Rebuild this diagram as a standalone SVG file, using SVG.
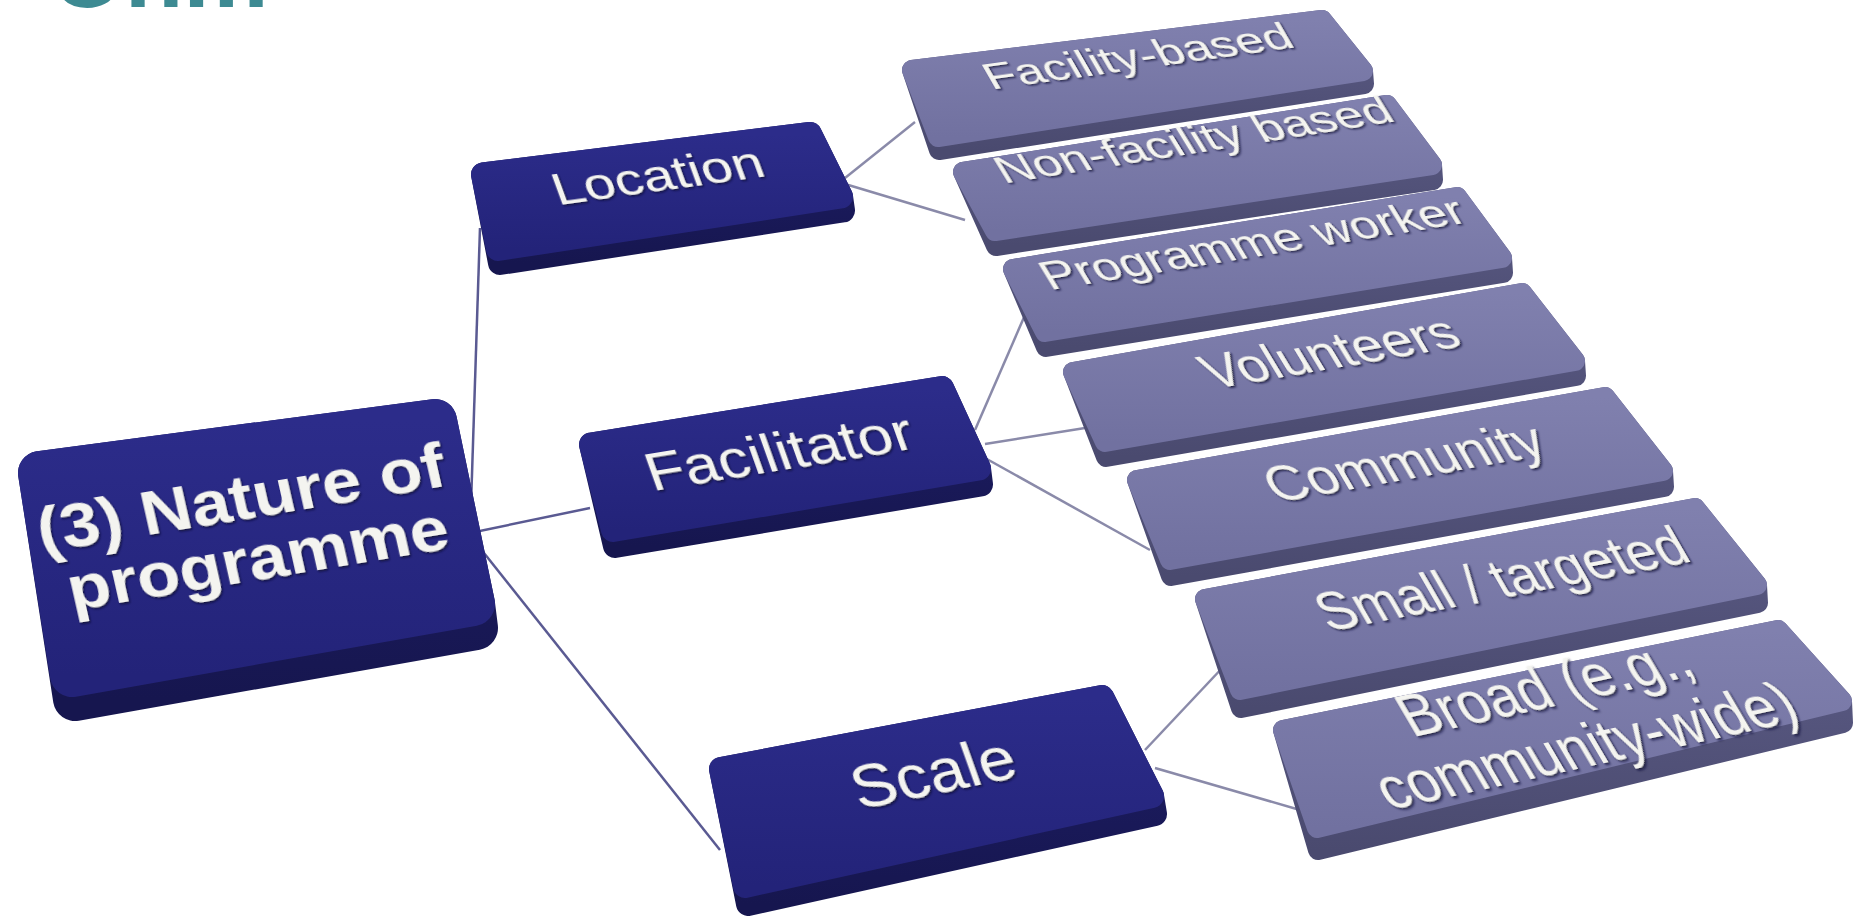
<svg xmlns="http://www.w3.org/2000/svg" width="1858" height="916" viewBox="0 0 1858 916">
<style>
  .dface{fill:url(#gDF);stroke:url(#gDF);stroke-linejoin:round}
  .dbody{fill:url(#gDB);stroke:url(#gDB);stroke-linejoin:round}
  .lface{fill:url(#gLF);stroke:url(#gLF);stroke-linejoin:round;stroke-width:20}
  .lbody{fill:url(#gLB);stroke:url(#gLB);stroke-linejoin:round;stroke-width:20}
  .root{stroke-width:44}
  .mid{stroke-width:24}
  .lbl{font-family:"Liberation Sans",Arial,sans-serif;fill:#f4f4f0;text-anchor:middle;filter:url(#emb)}
  .c1{stroke:#5a5a92;stroke-width:2.5;fill:none}
  .c2{stroke:#8a8aa9;stroke-width:2.5;fill:none}
</style>
<defs>
  <linearGradient id="gDF" x1="0" y1="0" x2="0" y2="1">
    <stop offset="0" stop-color="#2c2c8a"/><stop offset="1" stop-color="#232379"/>
  </linearGradient>
  <linearGradient id="gDB" x1="0" y1="0" x2="0" y2="1">
    <stop offset="0" stop-color="#1e1e66"/><stop offset="1" stop-color="#16164f"/>
  </linearGradient>
  <linearGradient id="gLF" x1="0" y1="0" x2="0" y2="1">
    <stop offset="0" stop-color="#8080ae"/><stop offset="1" stop-color="#7171a0"/>
  </linearGradient>
  <linearGradient id="gLB" x1="0" y1="0" x2="0" y2="1">
    <stop offset="0" stop-color="#5c5c86"/><stop offset="1" stop-color="#4a4a6f"/>
  </linearGradient>
  <filter id="emb" x="-10%" y="-30%" width="120%" height="160%">
    <feDropShadow dx="1" dy="2" stdDeviation="1.2" flood-color="#101030" flood-opacity="0.85"/>
  </filter>
</defs>
<rect width="1858" height="916" fill="#ffffff"/>
<text x="50" y="7" font-family="Liberation Sans, Arial, sans-serif" font-size="96" font-weight="bold" fill="#3d8a92">Onm</text>

<g id="connectors">
  <line class="c1" x1="471" y1="505" x2="480" y2="228"/>
  <line class="c1" x1="470" y1="533" x2="590" y2="508"/>
  <line class="c1" x1="480" y1="548" x2="720" y2="850"/>
  <line class="c2" x1="845" y1="178" x2="915" y2="122"/>
  <line class="c2" x1="845" y1="184" x2="965" y2="220"/>
  <line class="c2" x1="975" y1="430" x2="1025" y2="315"/>
  <line class="c2" x1="985" y1="444" x2="1085" y2="428"/>
  <line class="c2" x1="985" y1="458" x2="1150" y2="550"/>
  <line class="c2" x1="1145" y1="750" x2="1225" y2="665"/>
  <line class="c2" x1="1155" y1="768" x2="1300" y2="810"/>
</g>

<g id="node-root">
  <polygon class="dbody root" points="40,473 435,421 473,604 476,628 75,699"/>
  <polygon class="dface root" points="40,473 435,421 473,604 72,675"/>
  <g transform="matrix(0.987,-0.163,0.18,0.80,250,539)">
    <text class="lbl" font-weight="bold" font-size="70" transform="translate(0,-25) scale(1,1.1)">(3) Nature of</text>
    <text class="lbl" font-weight="bold" font-size="70" transform="translate(3,51) scale(1,1.1)">programme</text>
  </g>
</g>

<g id="node-location">
  <polygon class="dbody mid" points="483,174.5 810,134 841,196.5 843,210.5 500,263"/>
  <polygon class="dface mid" points="483,174.5 810,134 841,196.5 498,249"/>
  <g transform="matrix(0.990,-0.138,0.28,0.77,657.5,184.5)">
    <text class="lbl" font-size="56" x="3" y="8">Location</text>
  </g>
</g>

<g id="node-facilitator">
  <polygon class="dbody mid" points="591,444.5 942,388 979,468.5 981,484.5 615,546"/>
  <polygon class="dface mid" points="591,444.5 942,388 979,468.5 613,530"/>
  <g transform="matrix(0.987,-0.161,0.275,0.772,781,458)">
    <text class="lbl" font-size="62" transform="translate(0,15) scale(1,1.1)">Facilitator</text>
  </g>
</g>

<g id="node-scale">
  <polygon class="dbody mid" points="721,769 1102,697 1152,796 1155,814 748,904"/>
  <polygon class="dface mid" points="721,769 1102,697 1152,796 745,886"/>
  <g transform="matrix(0.9795,-0.2015,0.275,0.772,929,782)">
    <text class="lbl" font-size="66" transform="translate(7,16) scale(1,1.18)">Scale</text>
  </g>
</g>

<g id="node-facility-based">
  <polygon class="lbody" points="912,70 1322,20 1363,71 1364,84 939,150"/>
  <polygon class="lface" points="912,70 1322,20 1363,71 938,137"/>
  <g transform="matrix(0.990,-0.1377,0.41,0.71,1134,74.5)">
    <text class="lbl" font-size="50" x="13" y="-6">Facility-based</text>
  </g>
</g>

<g id="node-non-facility">
  <polygon class="lbody" points="963,172 1387,105 1432,165 1433,180 996,246"/>
  <polygon class="lface" points="963,172 1387,105 1432,165 995,231"/>
  <g transform="matrix(0.988,-0.157,0.43,0.70,1194,168)">
    <text class="lbl" font-size="50" transform="translate(15,-19) scale(1,1.05)">Non-facility based</text>
  </g>
</g>

<g id="node-programme-worker">
  <polygon class="lbody" points="1013,269 1457,197 1502,258 1503,273 1046,347"/>
  <polygon class="lface" points="1013,269 1457,197 1502,258 1045,332"/>
  <g transform="matrix(0.987,-0.16,0.427,0.70,1254,264)">
    <text class="lbl" font-size="50" transform="translate(10,-9) scale(1,1.1)">Programme worker</text>
  </g>
</g>

<g id="node-volunteers">
  <polygon class="lbody" points="1073,372 1522,293 1575,361 1576,376 1106,457"/>
  <polygon class="lface" points="1073,372 1522,293 1575,361 1105,442"/>
  <g transform="matrix(0.9853,-0.1705,0.424,0.70,1319,367)">
    <text class="lbl" font-size="54" transform="translate(18,5) scale(1,1.2)">Volunteers</text>
  </g>
</g>

<g id="node-community">
  <polygon class="lbody" points="1137,480 1605,397 1663,471 1664,487 1171,576"/>
  <polygon class="lface" points="1137,480 1605,397 1663,471 1170,560"/>
  <g transform="matrix(0.9845,-0.175,0.414,0.708,1394,477)">
    <text class="lbl" font-size="55" transform="translate(17,6) scale(1,1.25)">Community</text>
  </g>
</g>

<g id="node-small-targeted">
  <polygon class="lbody" points="1205,599 1695,508 1757,585 1758,603 1241,708"/>
  <polygon class="lface" points="1205,599 1695,508 1757,585 1240,690"/>
  <g transform="matrix(0.9817,-0.189,0.41,0.71,1474,595.5)">
    <text class="lbl" font-size="53" transform="translate(34,10) scale(1,1.35)">Small / targeted</text>
  </g>
</g>

<g id="node-broad">
  <polygon class="lbody" points="1283,730 1778,630 1842,701 1843,723 1318,850"/>
  <polygon class="lface" points="1283,730 1778,630 1842,701 1317,828"/>
  <g transform="matrix(0.977,-0.214,0.416,0.707,1555,722)">
    <text class="lbl" font-size="56" transform="translate(9,-20) scale(1,1.4)">Broad (e.g.,</text>
    <text class="lbl" font-size="56" transform="translate(15,65) scale(1,1.4)">community-wide)</text>
  </g>
</g>
</svg>
